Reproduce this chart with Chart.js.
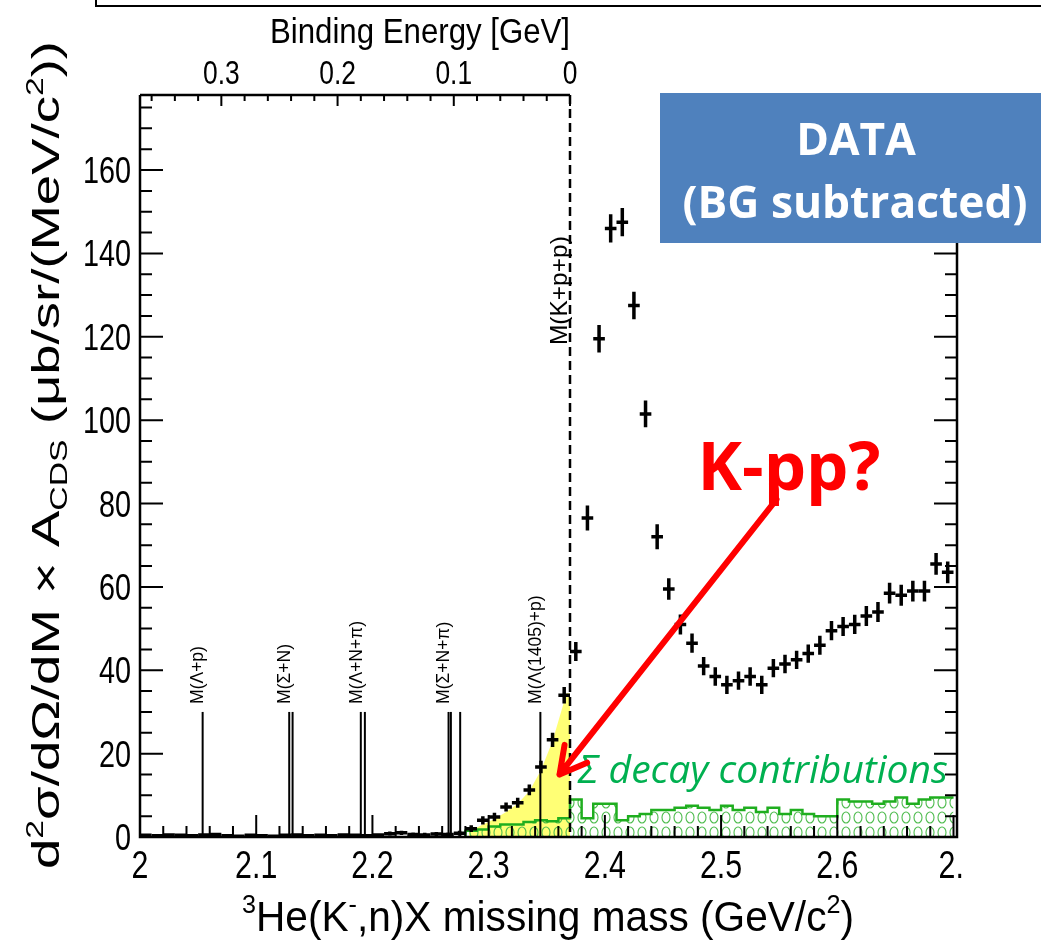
<!DOCTYPE html>
<html>
<head>
<meta charset="utf-8">
<script src="https://cdn.jsdelivr.net/npm/chart.js@4.4.1/dist/chart.umd.min.js"></script>
<style>
  html, body { margin: 0; padding: 0; background: #fff; }
  #wrap { position: relative; width: 1041px; height: 948px; }
</style>
</head>
<body>
<div id="wrap"><canvas id="grafico" width="1041" height="948"></canvas></div>
<script>
// === DATA ===
const binCenters = [2.005, 2.015, 2.025, 2.035, 2.045, 2.055, 2.065, 2.075, 2.085, 2.095,
  2.105, 2.115, 2.125, 2.135, 2.145, 2.155, 2.165, 2.175, 2.185, 2.195,
  2.205, 2.215, 2.225, 2.235, 2.245, 2.255, 2.265, 2.275, 2.285, 2.295,
  2.305, 2.315, 2.325, 2.335, 2.345, 2.355, 2.365, 2.375, 2.385, 2.395,
  2.405, 2.415, 2.425, 2.435, 2.445, 2.455, 2.465, 2.475, 2.485, 2.495,
  2.505, 2.515, 2.525, 2.535, 2.545, 2.555, 2.565, 2.575, 2.585, 2.595,
  2.605, 2.615, 2.625, 2.635, 2.645, 2.655, 2.665, 2.675, 2.685, 2.695];
const counts = [0.4, 0.3, 0.5, 0.4, 0.3, 0.5, 0.6, 0.3, 0.2, 0.4,
  0.3, 0.2, 0.4, 0.5, 0.3, 0.4, 0.3, 0.5, 0.4, 0.3,
  0.5, 0.8, 1.0, 0.6, 0.5, 0.7, 0.6, 0.9, 2.0, 4.0,
  4.8, 7.2, 8.2, 11.3, 16.8, 23.3, 34.0, 44.5, 76.5, 119.5,
  146, 147.5, 127.5, 101.5, 72, 59.5, 51, 46.5, 41, 38.5,
  36.5, 37.5, 38.5, 36.5, 40.5, 41.5, 42.5, 44, 46, 49.5,
  50.5, 51, 53, 54, 58.5, 58, 59, 59, 65.5, 63.5];
const errors = [0.4, 0.4, 0.4, 0.4, 0.4, 0.4, 0.4, 0.4, 0.4, 0.4,
  0.4, 0.4, 0.4, 0.4, 0.4, 0.4, 0.4, 0.4, 0.4, 0.4,
  0.4, 0.5, 0.5, 0.5, 0.5, 0.5, 0.5, 0.6, 0.8, 1.0,
  1.0, 1.1, 1.2, 1.3, 1.5, 1.7, 2.0, 2.3, 3.0, 3.3,
  3.4, 3.4, 3.3, 3.2, 3.0, 2.6, 2.4, 2.3, 2.2, 2.2,
  2.2, 2.2, 2.2, 2.2, 2.2, 2.2, 2.2, 2.2, 2.3, 2.3,
  2.3, 2.3, 2.4, 2.4, 2.5, 2.5, 2.5, 2.5, 2.6, 2.6];

const sigmaBinLow = [2.28, 2.29, 2.30, 2.31, 2.32, 2.33, 2.34, 2.35, 2.36, 2.37,
  2.38, 2.39, 2.40, 2.41, 2.42, 2.43, 2.44, 2.45, 2.46, 2.47,
  2.48, 2.49, 2.50, 2.51, 2.52, 2.53, 2.54, 2.55, 2.56, 2.57,
  2.58, 2.59, 2.60, 2.61, 2.62, 2.63, 2.64, 2.65, 2.66, 2.67,
  2.68, 2.69, 2.70];
const sigmaValues = [1.3, 1.5, 1.8, 2.5, 3.0, 3.0, 3.6, 4.0, 3.8, 4.5,
  9.0, 4.5, 8.0, 8.0, 4.0, 5.0, 5.5, 6.5, 6.5, 7.0,
  7.5, 7.0, 6.5, 7.5, 6.5, 7.0, 6.0, 7.0, 5.5, 6.5,
  5.5, 5.0, 5.0, 9.0, 8.5, 8.5, 8.0, 8.5, 9.5, 8.0,
  9.0, 9.5, 9.5];

const yellowX = [2.283, 2.295, 2.305, 2.315, 2.325, 2.335, 2.345, 2.355, 2.367, 2.370, 2.370];
const yellowY = [1.3, 3.0, 4.3, 6.0, 8.0, 11.0, 16.0, 23.0, 34.5, 34.5, 0];

const thresholdLabels = ['M(\u039B+p)', 'M(\u03A3+N)', 'M(\u039B+N+\u03C0)', 'M(\u03A3+N+\u03C0)', 'M(\u039B(1405)+p)'];
const thresholdMasses = [[2.0539], [2.1284, 2.1313], [2.1900, 2.1935], [2.2655, 2.2675, 2.2755], [2.3445]];
const thresholdHeight = 30;
const kppThreshold = 2.370;

const xTickValues = [2.0, 2.1, 2.2, 2.3, 2.4, 2.5, 2.6, 2.7];
const xTickLabels = ['2', '2.1', '2.2', '2.3', '2.4', '2.5', '2.6', '2.'];
const yTickValues = [0, 20, 40, 60, 80, 100, 120, 140, 160];
const beTickValues = [0.3, 0.2, 0.1, 0];
const beTickLabels = ['0.3', '0.2', '0.1', '0'];

const FONT = "'Liberation Sans', Arial, sans-serif";
const SLIDE = "'Open Sans', Lato, sans-serif";

// === HELPERS ===
function texto(ctx, s, x, y, size, align, sx, extra) {
  ctx.save();
  ctx.translate(x, y);
  ctx.scale(sx || 1, 1);
  ctx.font = (extra || '') + size + 'px ' + FONT;
  ctx.textAlign = align || 'center';
  ctx.textBaseline = 'alphabetic';
  ctx.fillText(s, 0, 0);
  ctx.restore();
}

// font size so that the text takes the given width
function ajustaFonte(ctx, s, estilo, familia, largura) {
  ctx.font = estilo + ' 100px ' + familia;
  return 100 * largura / ctx.measureText(s).width;
}

function larguraRica(ctx, partes, size) {
  let w = 0;
  partes.forEach(p => {
    ctx.font = (p[1] === 'n' ? size : size * 0.62) + 'px ' + FONT;
    w += ctx.measureText(p[0]).width;
  });
  return w;
}

function textoRico(ctx, partes, x, y, size, alvo) {
  const w = larguraRica(ctx, partes, size);
  ctx.save();
  ctx.translate(x, y);
  ctx.scale(alvo / w, 1);
  ctx.textAlign = 'left';
  ctx.textBaseline = 'alphabetic';
  let cx = -w / 2;
  partes.forEach(p => {
    const pequeno = p[1] !== 'n';
    ctx.font = (pequeno ? size * 0.62 : size) + 'px ' + FONT;
    const dy = p[1] === 'sup' ? -size * 0.42 : (p[1] === 'sub' ? size * 0.2 : 0);
    ctx.fillText(p[0], cx, dy);
    cx += ctx.measureText(p[0]).width;
  });
  ctx.restore();
}

function hachura(ctx) {
  const c = document.createElement('canvas');
  c.width = 12; c.height = 15;
  const g = c.getContext('2d');
  g.strokeStyle = '#4cbb4c';
  g.lineWidth = 1.1;
  g.beginPath();
  g.ellipse(6, 7.5, 4, 5.5, 0, 0, 2 * Math.PI);
  g.stroke();
  return ctx.createPattern(c, 'repeat');
}

// === PLUGIN: frame, ticks, error bars, annotations ===
const decoracao = {
  id: 'decoracao',
  beforeDraw(chart) {
    const ctx = chart.ctx;
    ctx.save();
    ctx.strokeStyle = '#000';
    ctx.lineWidth = 2;
    ctx.beginPath();
    ctx.moveTo(96, 0); ctx.lineTo(96, 6); ctx.lineTo(1041, 6);
    ctx.stroke();
    ctx.restore();
  },
  afterDatasetsDraw(chart) {
    const ctx = chart.ctx;
    const xs = chart.scales.x, ys = chart.scales.y, be = chart.scales.x2;
    const a = chart.chartArea;
    const X = v => xs.getPixelForValue(v);
    const Y = v => ys.getPixelForValue(v);
    ctx.save();

    // threshold lines
    ctx.strokeStyle = '#000';
    ctx.lineWidth = 2;
    thresholdMasses.forEach(grupo => grupo.forEach(m => {
      ctx.beginPath();
      ctx.moveTo(X(m), Y(0)); ctx.lineTo(X(m), Y(thresholdHeight));
      ctx.stroke();
    }));
    ctx.fillStyle = '#000';
    thresholdLabels.forEach((lab, i) => {
      ctx.save();
      ctx.translate(X(thresholdMasses[i][0]) - 4, Y(thresholdHeight) - 8);
      ctx.rotate(-Math.PI / 2);
      ctx.font = '17.5px ' + FONT;
      ctx.textAlign = 'left';
      ctx.textBaseline = 'middle';
      ctx.fillText(lab, 0, 0);
      ctx.restore();
    });

    // K+p+p threshold, dashed
    ctx.setLineDash([9, 5]);
    ctx.lineWidth = 2.5;
    ctx.beginPath();
    ctx.moveTo(X(kppThreshold), a.top); ctx.lineTo(X(kppThreshold), a.bottom);
    ctx.stroke();
    ctx.setLineDash([]);
    ctx.save();
    ctx.translate(X(kppThreshold) - 10, Y(118));
    ctx.rotate(-Math.PI / 2);
    ctx.font = ajustaFonte(ctx, 'M(K+p+p)', '', FONT, 109) + 'px ' + FONT;
    ctx.textAlign = 'left';
    ctx.textBaseline = 'middle';
    ctx.fillText('M(K+p+p)', 0, 0);
    ctx.restore();

    // data with error bars
    ctx.save();
    ctx.beginPath();
    ctx.rect(a.left, a.top, a.right - a.left, a.bottom - a.top);
    ctx.clip();
    ctx.lineWidth = 3.5;
    ctx.strokeStyle = '#000';
    binCenters.forEach((c, i) => {
      const v = counts[i], e = errors[i];
      ctx.beginPath();
      ctx.moveTo(X(c - 0.005), Y(v)); ctx.lineTo(X(c + 0.005), Y(v));
      ctx.moveTo(X(c), Y(v - e)); ctx.lineTo(X(c), Y(v + e));
      ctx.stroke();
    });
    ctx.restore();

    // frame
    const beZero = be.getPixelForValue(0);
    ctx.lineWidth = 2.5;
    ctx.beginPath();
    ctx.moveTo(a.left, a.top); ctx.lineTo(a.left, a.bottom); ctx.lineTo(a.right, a.bottom); ctx.lineTo(a.right, a.top);
    ctx.moveTo(a.left, a.top); ctx.lineTo(beZero, a.top);
    ctx.stroke();

    // inner ticks
    ctx.lineWidth = 2;
    ctx.beginPath();
    for (let k = 0; k <= 35; k++) {
      const v = 2.0 + k * 0.02;
      const len = (k % 5 === 0) ? 22 : 11;
      ctx.moveTo(X(v), a.bottom); ctx.lineTo(X(v), a.bottom - len);
    }
    for (let k = 0; k <= 35; k++) {
      const v = k * 5;
      const len = (k % 4 === 0) ? 23 : 12;
      ctx.moveTo(a.left, Y(v)); ctx.lineTo(a.left + len, Y(v));
      ctx.moveTo(a.right, Y(v)); ctx.lineTo(a.right - len, Y(v));
    }
    for (let k = 0; k <= 18; k++) {
      const v = k * 0.02;
      const len = (k % 5 === 0) ? 11 : 6;
      const px = be.getPixelForValue(v);
      ctx.moveTo(px, a.top); ctx.lineTo(px, a.top + len);
    }
    ctx.stroke();

    // tick labels
    ctx.fillStyle = '#000';
    xTickValues.forEach((v, i) => {
      const ultimo = i === xTickValues.length - 1;
      texto(ctx, xTickLabels[i], ultimo ? X(v) - 15 : X(v), 878, 38, ultimo ? 'left' : 'center', 0.8);
    });
    yTickValues.forEach(v => texto(ctx, String(v), a.left - 9, Y(v) + 13, 36, 'right', 0.8));
    beTickValues.forEach((v, i) => texto(ctx, beTickLabels[i], be.getPixelForValue(v), 84, 33, 'center', 0.8));

    // axis titles
    ctx.save();
    ctx.font = '35px ' + FONT;
    const tw = ctx.measureText('Binding Energy [GeV]').width;
    ctx.restore();
    texto(ctx, 'Binding Energy [GeV]', beZero, 43, 35, 'right', 300 / tw);

    textoRico(ctx, [['3', 'sup'], ['He(K', 'n'], ['-', 'sup'], [',n)X missing mass (GeV/c', 'n'], ['2', 'sup'], [')', 'n']],
      548, 931, 42, 612);

    ctx.save();
    ctx.translate(46, 455);
    ctx.rotate(-Math.PI / 2);
    textoRico(ctx, [['d', 'n'], ['2', 'sup'], ['\u03C3/d\u03A9/dM \u00D7 A', 'n'], ['CDS', 'sub'],
      [' (\u03BCb/sr/(MeV/c', 'n'], ['2', 'sup'], ['))', 'n']], 0, 13, 38, 828);
    ctx.restore();

    // sigma decay text
    ctx.fillStyle = '#00b050';
    ctx.font = 'italic ' + ajustaFonte(ctx, '\u03A3 decay contributions', 'italic', SLIDE, 370) + 'px ' + SLIDE;
    ctx.textAlign = 'left';
    ctx.textBaseline = 'alphabetic';
    ctx.fillText('\u03A3 decay contributions', 578, 783);

    // K-pp? label and arrow
    ctx.fillStyle = '#ff0000';
    ctx.font = 'bold ' + ajustaFonte(ctx, 'K-pp?', 'bold', SLIDE, 183) + 'px ' + SLIDE;
    ctx.textAlign = 'center';
    ctx.fillText('K-pp?', 789, 490);
    const x0 = X(2.5477), y0 = Y(81), x1 = X(2.361), y1 = Y(15);
    ctx.strokeStyle = '#ff0000';
    ctx.lineWidth = 6;
    ctx.lineCap = 'round';
    ctx.beginPath();
    ctx.moveTo(x0, y0); ctx.lineTo(x1, y1);
    const ang = Math.atan2(y1 - y0, x1 - x0);
    [0.5, -0.5].forEach(d => {
      ctx.moveTo(x1, y1);
      ctx.lineTo(x1 - 30 * Math.cos(ang + d), y1 - 30 * Math.sin(ang + d));
    });
    ctx.stroke();

    // DATA box
    ctx.fillStyle = '#4f81bd';
    ctx.fillRect(660, 93, 381, 150);
    ctx.fillStyle = '#fff';
    ctx.textAlign = 'center';
    ctx.font = 'bold ' + ajustaFonte(ctx, '(BG subtracted)', 'bold', SLIDE, 345) + 'px ' + SLIDE;
    ctx.fillText('DATA', 856, 155);
    ctx.fillText('(BG subtracted)', 855, 218);

    ctx.restore();
  }
};

// === GRÁFICO ===
const ctx = document.getElementById('grafico').getContext('2d');
new Chart(ctx, {
  type: 'scatter',
  data: {
    datasets: [
      {
        type: 'line',
        label: 'K-pp region',
        data: yellowX.map((x, i) => ({ x: x, y: yellowY[i] })),
        fill: 'origin',
        backgroundColor: 'rgba(255,255,110,0.95)',
        borderWidth: 0,
        pointRadius: 0,
        tension: 0,
        order: 3
      },
      {
        type: 'line',
        label: 'Sigma decay',
        data: [{ x: sigmaBinLow[0], y: 0 }].concat(sigmaBinLow.map((x, i) => ({ x: x, y: sigmaValues[i] }))),
        stepped: 'after',
        fill: 'origin',
        backgroundColor: hachura(ctx),
        borderColor: '#1fae1f',
        borderWidth: 2.5,
        pointRadius: 0,
        order: 2
      },
      {
        label: 'Data',
        data: binCenters.map((x, i) => ({ x: x, y: counts[i] })),
        pointRadius: 0,
        order: 1
      }
    ]
  },
  options: {
    responsive: false,
    animation: false,
    devicePixelRatio: 1,
    layout: { padding: { left: 0, right: 84, top: 0, bottom: 0 } },
    plugins: { legend: { display: false }, tooltip: { enabled: false } },
    scales: {
      x: {
        type: 'linear', position: 'bottom', min: 2.0, max: 2.703,
        grid: { display: false }, border: { display: false },
        ticks: { display: false, stepSize: 0.1 },
        afterFit: s => { s.height = 111; }
      },
      x2: {
        type: 'linear', position: 'top', min: -0.333, max: 0.37, reverse: true,
        grid: { display: false }, border: { display: false },
        ticks: { display: false },
        afterFit: s => { s.height = 95; }
      },
      y: {
        type: 'linear', min: 0, max: 178,
        grid: { display: false }, border: { display: false },
        ticks: { display: false, stepSize: 20 },
        afterFit: s => { s.width = 140; }
      }
    }
  },
  plugins: [decoracao]
});
</script>
</body>
</html>
